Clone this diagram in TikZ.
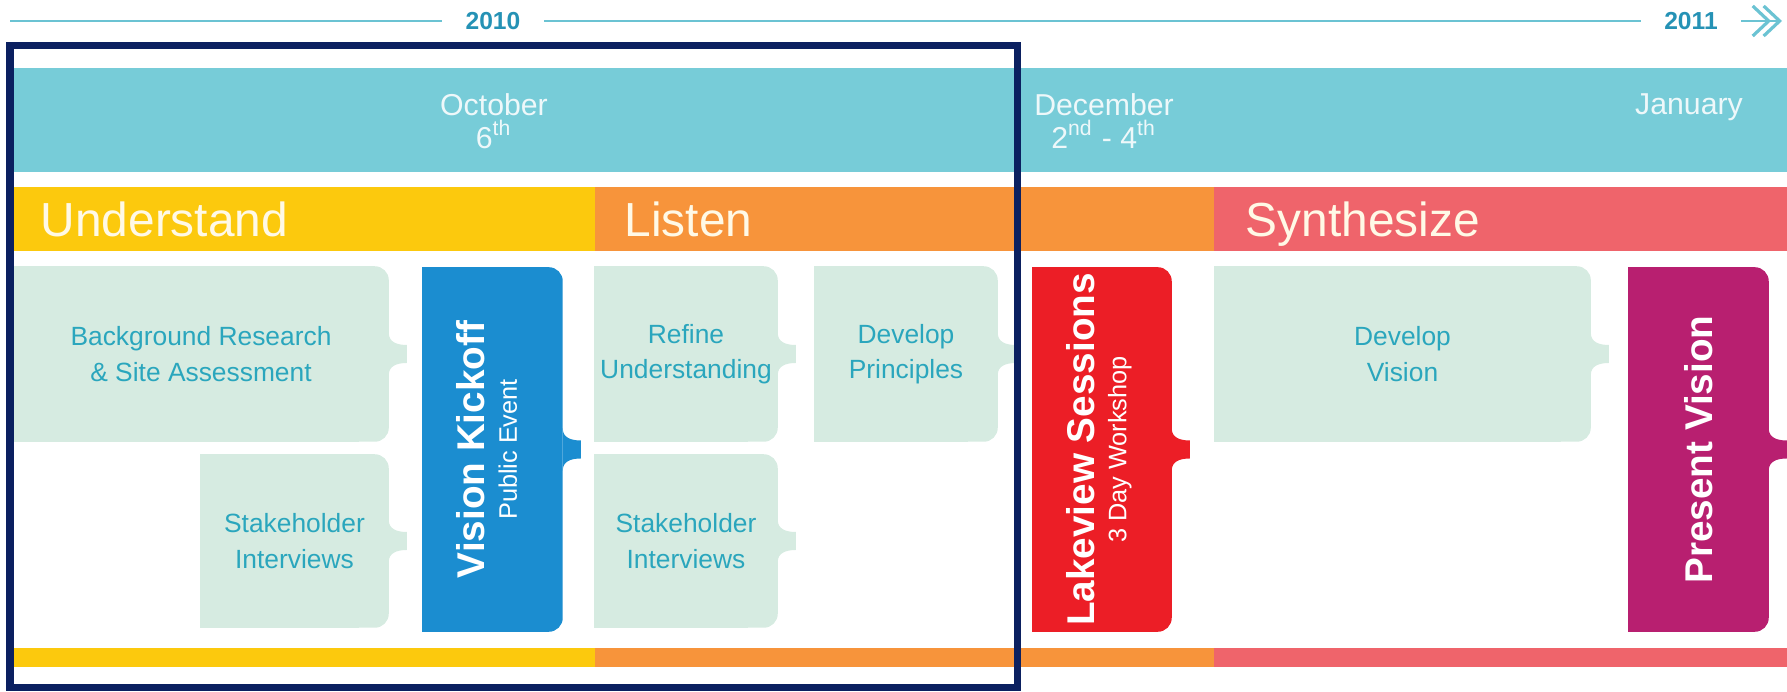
\documentclass[tikz,border=0pt]{standalone}
\usepackage{fontspec}
\setmainfont{Liberation Sans}
\usepackage{graphicx}
\usepackage{tikz}
\usetikzlibrary{arrows.meta,backgrounds}

\definecolor{bandcyan}{HTML}{77CCD8}
\definecolor{phaseyellow}{HTML}{FCC90D}
\definecolor{phaseorange}{HTML}{F7943B}
\definecolor{phasepink}{HTML}{EF646B}
\definecolor{taskfill}{HTML}{D6EBE1}
\definecolor{tasktext}{HTML}{2AA6BD}
\definecolor{kickblue}{HTML}{1B8DD0}
\definecolor{lakered}{HTML}{EC1E26}
\definecolor{presentmag}{HTML}{B81F70}
\definecolor{framenavy}{HTML}{0B2060}
\definecolor{phasetext}{HTML}{FFF9E6}
\definecolor{monthtext}{HTML}{EEF8FA}
\definecolor{yeartext}{HTML}{2592B5}
\definecolor{lineteal}{HTML}{6BC3D3}

% box with square left side, round right side and a brace tab
\newcommand\tabfill[2]{%
  \fill[#2, rounded corners=1.4mm] (#1.south west) rectangle (#1.north east);
  \fill[#2] (#1.south west) rectangle ([xshift=-3mm]#1.north east);
  \fill[#2] ([yshift=2.1mm]#1.east) .. controls +(0,-0.9mm) and +(-1mm,0) .. ([xshift=1.8mm,yshift=0.9mm]#1.east)
    -- ([xshift=1.8mm,yshift=-0.9mm]#1.east) .. controls +(-1mm,0) and +(0,0.9mm) .. ([yshift=-2.1mm]#1.east) -- cycle;
}
% rotated title + subtitle
\newcommand\vlabel[2]{\rotatebox{90}{\begin{tabular}{@{}c@{}}\bfseries #1\\[-2.9pt]\fontsize{7.2}{9}\selectfont #2\end{tabular}}}

\begin{document}
\begin{tikzpicture}[x=0.01cm, y=-0.01cm,
    task node/.style={text=tasktext, font=\fontsize{7.5}{10}\selectfont, align=center,
                      inner sep=0pt, minimum height=1.74cm},
    event node/.style={text=white, font=\fontsize{11}{12}\selectfont, inner sep=0pt, minimum height=3.63cm},
    phase label/.style={text=phasetext, font=\fontsize{13.6}{16}\selectfont, anchor=base west, inner sep=0pt},
    month label/.style={text=monthtext, font=\fontsize{8.6}{9.4}\selectfont, align=center, anchor=north, inner sep=0pt},
    year label/.style={text=yeartext, font=\fontsize{7}{8}\selectfont\bfseries, inner xsep=2.3mm, inner ysep=0pt},
    timeline/.style={draw=lineteal, line width=0.25mm}]
  \useasboundingbox (0,0) rectangle (1787,692);

  % bands
  \fill[bandcyan] (14,68) rectangle (1787,172);
  \foreach \a/\b/\c in {14/595/phaseyellow, 595/1214/phaseorange, 1214/1787/phasepink} {
    \fill[\c] (\a,187) rectangle (\b,251);
    \fill[\c] (\a,648) rectangle (\b,667);
  }

  \node[month label] (oct) at (494,93) {October\\6\textsuperscript{th}};
  \node[month label] (dec) at (1104,93) {December\\2\textsuperscript{nd} - 4\textsuperscript{th}};
  \node[month label] (jan) at (1689,93) {January};

  \node[phase label] (understand) at (40,237) {Understand};
  \node[phase label] (listen) at (624,237) {Listen};
  \node[phase label] (synth) at (1245,237) {Synthesize};

  % tasks and events
  \node[task node, minimum width=3.74cm] (research) at (201,354) {Background Research\\\& Site Assessment};
  \node[task node, minimum width=1.87cm, minimum height=1.72cm] (stakeA) at (294.5,541) {Stakeholder\\Interviews};
  \node[event node, minimum width=1.39cm] (kickoff) at (492.5,449.5) {\vlabel{Vision Kickoff}{Public Event}};
  \node[task node, minimum width=1.82cm] (refine) at (686,354) {Refine\\Understanding};
  \node[task node, minimum width=1.82cm, minimum height=1.72cm] (stakeB) at (686,541) {Stakeholder\\Interviews};
  \node[task node, minimum width=1.82cm] (principles) at (906,354) {Develop\\Principles};
  \node[event node, minimum width=1.38cm] (lakeview) at (1102,449.5) {\vlabel{Lakeview Sessions}{3 Day Workshop}};
  \node[task node, minimum width=3.75cm] (devvision) at (1402.5,354) {Develop\\Vision};
  \node[event node, minimum width=1.39cm] (present) at (1698.5,449.5) {\rotatebox{90}{\bfseries Present Vision}};

  \begin{scope}[on background layer]
    \foreach \n/\c in {research/taskfill, stakeA/taskfill, refine/taskfill, stakeB/taskfill,
                       principles/taskfill, devvision/taskfill, kickoff/kickblue,
                       lakeview/lakered, present/presentmag}
      {\tabfill{\n}{\c}}
  \end{scope}

  % frame round the first part
  \draw[framenavy, line width=0.7mm] (10,45.5) rectangle (1017,688);

  % timeline
  \coordinate (tlstart) at (10,21);
  \coordinate (tlend) at (1782,21);
  \node[year label] (y2010) at (493,21) {2010};
  \node[year label] (y2011) at (1691,21) {2011};
  \draw[timeline] (tlstart) -- (y2010);
  \draw[timeline] (y2010) -- (y2011);
  \draw[timeline, -{Straight Barb[length=1.6mm,width=3mm,line width=0.32mm,sep=-0.9mm]Straight Barb[length=1.6mm,width=3mm,line width=0.32mm]}] (y2011) -- (tlend);
\end{tikzpicture}
\end{document}
